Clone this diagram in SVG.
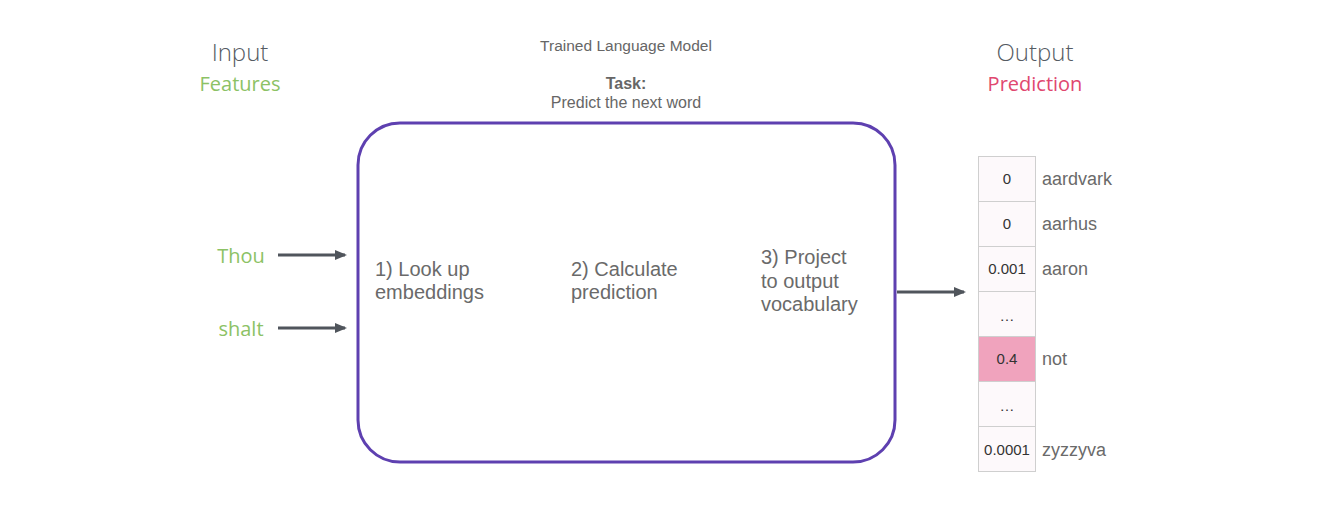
<svg xmlns="http://www.w3.org/2000/svg" width="1336" height="512" viewBox="0 0 1336 512">
<style>
.h{font-family:"Open Sans",sans-serif;font-weight:300;font-size:24px;fill:#555b63;text-anchor:middle}
.sub{font-family:"Open Sans",sans-serif;font-size:20px;text-anchor:middle}
.g{fill:#8cc265}
.p{fill:#e0476f}
.t{font-family:"Liberation Sans",Arial,sans-serif;fill:#666;}
.step{font-family:"Liberation Sans",Arial,sans-serif;font-size:20px;fill:#6a6a6a}
.cell{fill:#fdf9fb;stroke:#cfcfcf;stroke-width:1}
.num{font-family:"Liberation Sans",Arial,sans-serif;font-size:15px;fill:#333;text-anchor:middle}
.lab{font-family:"Liberation Sans",Arial,sans-serif;font-size:18px;fill:#6a6a6a}
.arr{stroke:#50555c;stroke-width:3;fill:none;marker-end:url(#ah)}
</style>
<defs>
<marker id="ah" markerWidth="12" markerHeight="12" refX="10" refY="6" orient="auto" markerUnits="userSpaceOnUse">
<path d="M0,1 L12,6 L0,11 z" fill="#50555c"/>
</marker>
</defs>
<rect width="1336" height="512" fill="#fff"/>
<g id="input-header">
<text class="h" x="240" y="61">Input</text>
<text class="sub g" x="240" y="91">Features</text>
</g>
<g id="output-header">
<text class="h" x="1035" y="61">Output</text>
<text class="sub p" x="1035" y="91">Prediction</text>
</g>
<g id="model-title">
<text class="t" x="626" y="51" font-size="15.5" text-anchor="middle">Trained Language Model</text>
<text class="t" x="626" y="89" font-size="16" font-weight="bold" text-anchor="middle" fill="#555">Task:</text>
<text class="t" x="626" y="108" font-size="16" text-anchor="middle">Predict the next word</text>
</g>
<g id="input-thou"><text class="sub g" x="241" y="263">Thou</text></g>
<g id="input-shalt"><text class="sub g" x="241" y="336">shalt</text></g>
<g id="model">
<rect x="358" y="123" width="537" height="339" rx="42" ry="42" fill="#fff" stroke="#5e40b0" stroke-width="3"/>
<text class="step" x="375" y="276">1) Look up</text>
<text class="step" x="375" y="299">embeddings</text>
<text class="step" x="571" y="276">2) Calculate</text>
<text class="step" x="571" y="299">prediction</text>
<text class="step" x="761" y="264">3) Project</text>
<text class="step" x="761" y="288">to output</text>
<text class="step" x="761" y="311">vocabulary</text>
</g>
<g id="output-vector">
<rect class="cell" x="978.5" y="156.5" width="57" height="45"/>
<rect class="cell" x="978.5" y="201.5" width="57" height="45"/>
<rect class="cell" x="978.5" y="246.5" width="57" height="45"/>
<rect class="cell" x="978.5" y="291.5" width="57" height="45"/>
<rect class="cell" x="978.5" y="336.5" width="57" height="45" style="fill:#f0a3bd"/>
<rect class="cell" x="978.5" y="381.5" width="57" height="45"/>
<rect class="cell" x="978.5" y="426.5" width="57" height="45"/>
<text class="num" x="1007" y="184">0</text>
<text class="num" x="1007" y="229">0</text>
<text class="num" x="1007" y="274">0.001</text>
<text class="num" x="1007" y="321" fill="#999">…</text>
<text class="num" x="1007" y="364">0.4</text>
<text class="num" x="1007" y="411" fill="#999">…</text>
<text class="num" x="1007" y="455">0.0001</text>
<text class="lab" x="1042" y="185">aardvark</text>
<text class="lab" x="1042" y="230">aarhus</text>
<text class="lab" x="1042" y="275">aaron</text>
<text class="lab" x="1042" y="365">not</text>
<text class="lab" x="1042" y="456">zyzzyva</text>
</g>
<g id="connectors">
<line class="arr" x1="278" y1="255" x2="345" y2="255"/>
<line class="arr" x1="278" y1="328" x2="345" y2="328"/>
<line class="arr" x1="897" y1="292" x2="964" y2="292"/>
</g>
</svg>
